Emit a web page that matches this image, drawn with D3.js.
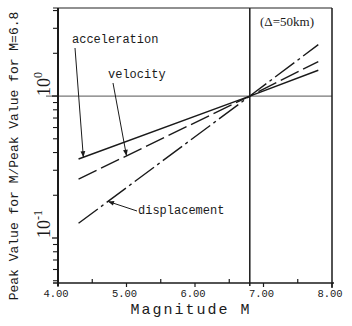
<!DOCTYPE html>
<html><head><meta charset="utf-8">
<script src="https://cdn.jsdelivr.net/npm/d3@7"></script>
<style>body{margin:0;background:#fff}svg{display:block}</style>
</head><body>
<svg id="c" width="352" height="326"></svg>
<script>
// ---- data ----
const magnitudes   = [4.3, 6.8, 7.8];
const acceleration = [0.36, 1.0, 1.52];
const velocity     = [0.26, 1.0, 1.75];
const displacement = [0.127, 1.0, 2.3];
const seriesNames  = ["acceleration", "velocity", "displacement"];
const xTicks       = [4, 5, 6, 7, 8];
const xTickLabels  = ["4.00", "5.00", "6.00", "7.00", "8.00"];
const xMinorTicks  = [4.5, 5.5, 6.5, 7.5];
const xDomain      = [4, 8];
const yDomain      = [0.0482, 4.17];
const yMajorTicks  = [0.1, 1];
const yMinorTicks  = [0.05,0.06,0.07,0.08,0.09,0.2,0.3,0.4,0.5,0.6,0.7,0.8,0.9,2,3,4];
const refMagnitude = 6.8;
const arrowAtM     = [4.37, 5.0, 4.73];

const svg = d3.select("#c");
const L = 58, R = 332, T = 8, B = 283;
const x = d3.scaleLinear().domain(xDomain).range([L, R]);
const y = d3.scaleLog().domain(yDomain).range([B, T]);

const mono = "'Liberation Mono', 'Courier New', monospace";
const serif = "'Liberation Serif', 'Times New Roman', serif";
const ink = "#1a1a1a";

// reference lines
svg.append("line").attr("x1", L - 12).attr("x2", R).attr("y1", y(1)).attr("y2", y(1))
  .attr("stroke", "#777").attr("stroke-width", 1.2);
svg.append("line").attr("x1", x(refMagnitude)).attr("x2", x(refMagnitude)).attr("y1", T).attr("y2", B + 3)
  .attr("stroke", ink).attr("stroke-width", 1.5);

// frame
svg.append("line").attr("x1", L - 5).attr("x2", R).attr("y1", T).attr("y2", T).attr("stroke", "#222").attr("stroke-width", 1.2);
svg.append("line").attr("x1", R).attr("x2", R).attr("y1", T).attr("y2", B + 5).attr("stroke", ink).attr("stroke-width", 1.5);
svg.append("line").attr("x1", L).attr("x2", L).attr("y1", T).attr("y2", B + 3).attr("stroke", ink).attr("stroke-width", 2);
svg.append("line").attr("x1", L - 5).attr("x2", R + 2).attr("y1", B).attr("y2", B).attr("stroke", ink).attr("stroke-width", 1.3);

// x ticks
svg.selectAll(".xt").data(xTicks).join("line")
  .attr("x1", d => x(d)).attr("x2", d => x(d)).attr("y1", B).attr("y2", B + 4)
  .attr("stroke", ink).attr("stroke-width", 1.2);
svg.selectAll(".xm").data(xMinorTicks).join("line")
  .attr("x1", d => x(d)).attr("x2", d => x(d)).attr("y1", B).attr("y2", B - 4)
  .attr("stroke", ink).attr("stroke-width", 1.2);
svg.selectAll(".xl").data(xTicks).join("text")
  .attr("x", d => x(d) - 2).attr("y", 297).attr("text-anchor", "middle")
  .attr("font-family", mono).attr("font-size", 10.5).attr("fill", ink)
  .text((d, i) => xTickLabels[i]);

// y ticks
svg.selectAll(".ym").data(yMinorTicks).join("line")
  .attr("x1", L - 5).attr("x2", L).attr("y1", d => y(d)).attr("y2", d => y(d))
  .attr("stroke", ink).attr("stroke-width", 1.1);
svg.selectAll(".yM").data(yMajorTicks).join("line")
  .attr("x1", L - 6).attr("x2", L).attr("y1", d => y(d)).attr("y2", d => y(d))
  .attr("stroke", ink).attr("stroke-width", 1.3);
const yl = svg.selectAll(".yl").data(yMajorTicks).join("text")
  .attr("transform", d => `translate(50,${y(d)}) rotate(-90)`)
  .attr("font-family", serif).attr("font-size", 18).attr("fill", ink);
yl.append("tspan").text("10");
yl.append("tspan").attr("font-size", 12).attr("dy", -8).text(d => Math.round(Math.log10(d)) === 0 ? "0" : "-1");

// series
const seriesData = [acceleration, velocity, displacement];
const dashes = [null, "20,5", "24,4,3,4"];
const line = d3.line().x(d => x(d[0])).y(d => y(d[1]));
seriesData.forEach((vals, i) => {
  svg.append("path").datum(magnitudes.map((m, j) => [m, vals[j]]))
    .attr("d", line).attr("fill", "none").attr("stroke", ink)
    .attr("stroke-width", 1.4).attr("stroke-dasharray", dashes[i]);
});

// annotations
svg.append("defs").append("marker").attr("id", "ah").attr("viewBox", "0 0 10 10")
  .attr("refX", 10).attr("refY", 5).attr("markerWidth", 8).attr("markerHeight", 6)
  .attr("markerUnits", "userSpaceOnUse").attr("orient", "auto")
  .append("path").attr("d", "M0,1 L10,5 L0,9 Z").attr("fill", ink);

function valueAt(vals, m) {
  const i = m <= magnitudes[1] ? 0 : 1;
  const t = (m - magnitudes[i]) / (magnitudes[i + 1] - magnitudes[i]);
  return Math.pow(10, Math.log10(vals[i]) + t * (Math.log10(vals[i + 1]) - Math.log10(vals[i])));
}
const labelPos = [[72, 43], [108, 78], [138, 214]];
const arrowFrom = [[75, 48], [113, 83], [137, 211]];
seriesNames.forEach((name, i) => {
  svg.append("text").attr("x", labelPos[i][0]).attr("y", labelPos[i][1])
    .attr("font-family", mono).attr("font-size", 12).attr("fill", ink).text(name);
  const m = arrowAtM[i];
  svg.append("line").attr("x1", arrowFrom[i][0]).attr("y1", arrowFrom[i][1])
    .attr("x2", x(m)).attr("y2", y(valueAt(seriesData[i], m)))
    .attr("stroke", ink).attr("stroke-width", 1).attr("marker-end", "url(#ah)");
});

svg.append("text").attr("x", 287).attr("y", 26).attr("text-anchor", "middle")
  .attr("font-family", serif).attr("font-size", 13).attr("fill", ink).text("(\u0394=50km)");

// axis titles
svg.append("text").attr("x", 191).attr("y", 314).attr("text-anchor", "middle")
  .attr("font-family", mono).attr("font-size", 15).attr("letter-spacing", 2).attr("fill", ink).text("Magnitude M");
svg.append("text").attr("transform", "translate(18,156) rotate(-90)").attr("text-anchor", "middle")
  .attr("font-family", mono).attr("font-size", 13).attr("fill", ink)
  .text("Peak Value for M/Peak Value for M=6.8");
</script>
</body></html>
